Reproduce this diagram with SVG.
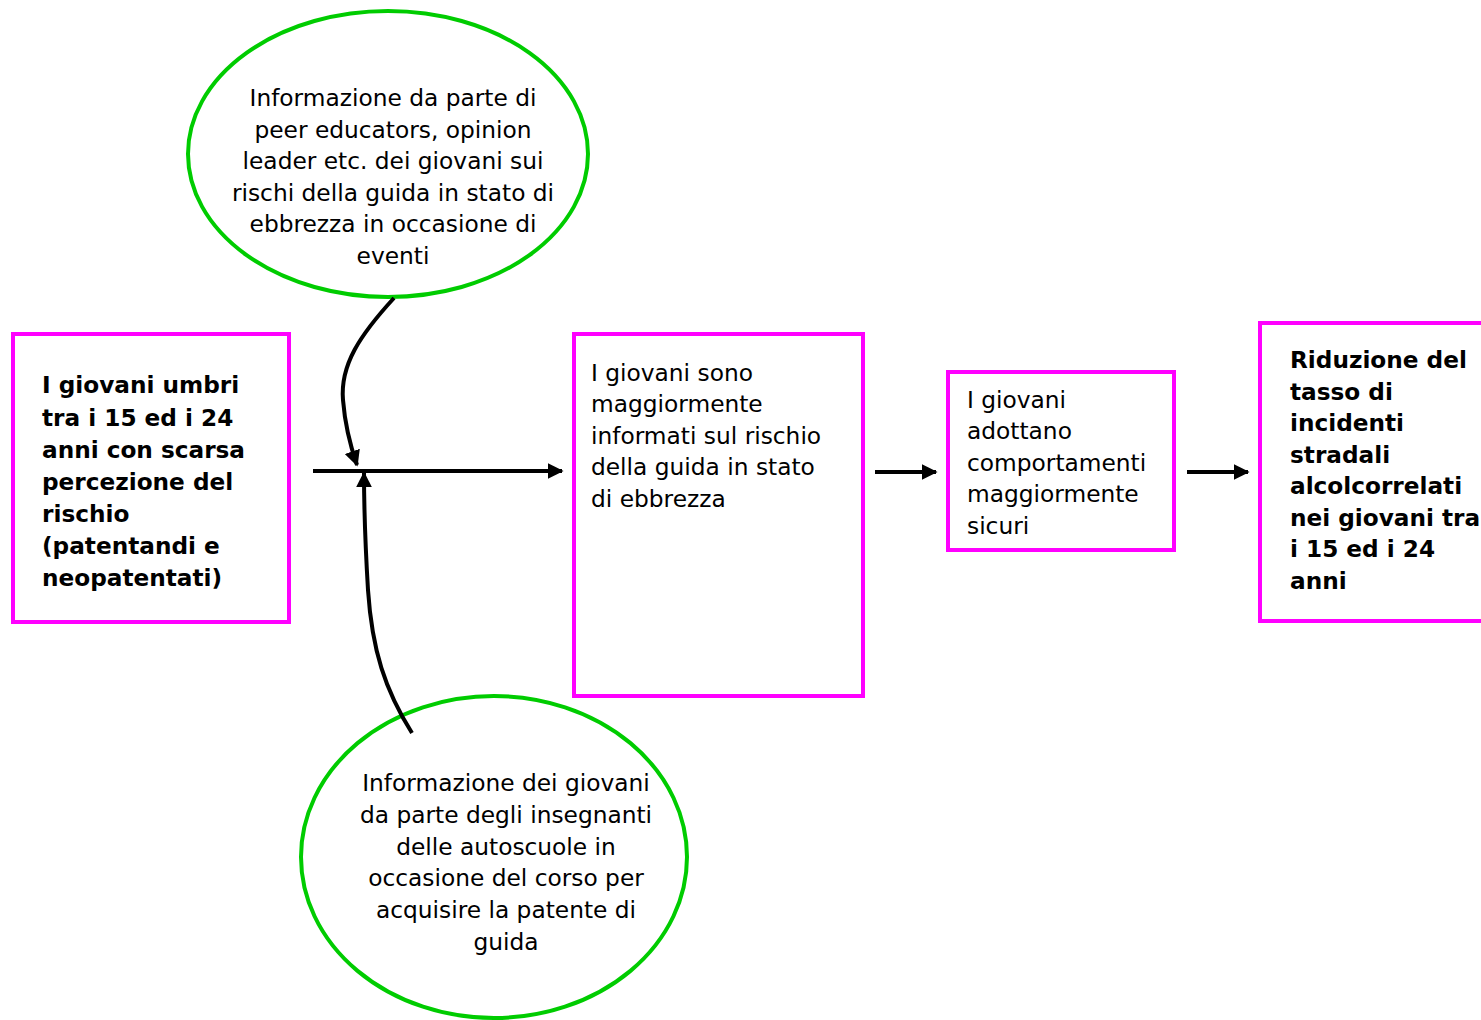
<svg xmlns="http://www.w3.org/2000/svg" width="1481" height="1020" viewBox="0 0 1481 1020">
<style>
.box{fill:#fff;stroke:#ff00ff;stroke-width:4}
.ell{fill:#fff;stroke:#00cc00;stroke-width:4}
.t{font-family:"DejaVu Sans",Verdana,sans-serif;font-size:23.3px;fill:#000}
.b{font-weight:bold;font-size:23.2px}
.c{text-anchor:middle}
.con{fill:none;stroke:#000;stroke-width:4}
</style>
<defs>
<marker id="ah" viewBox="0 0 10 10" refX="9" refY="5" markerWidth="4" markerHeight="4" markerUnits="strokeWidth" orient="auto">
<path d="M0,0 L10,5 L0,10 z" fill="#000"/>
</marker>
</defs>
<rect width="1481" height="1020" fill="#fff"/>
<g id="n-top">
<ellipse class="ell" cx="388" cy="154" rx="200" ry="143"/>
<text class="t c"><tspan x="393" y="106">Informazione da parte di</tspan><tspan x="393" y="138">peer educators, opinion</tspan><tspan x="393" y="169">leader etc. dei giovani sui</tspan><tspan x="393" y="201">rischi della guida in stato di</tspan><tspan x="393" y="232">ebbrezza in occasione di</tspan><tspan x="393" y="264">eventi</tspan></text>
</g>
<g id="n-bottom">
<ellipse class="ell" cx="494" cy="857" rx="193" ry="161"/>
<text class="t c"><tspan x="506" y="791">Informazione dei giovani</tspan><tspan x="506" y="823">da parte degli insegnanti</tspan><tspan x="506" y="855">delle autoscuole in</tspan><tspan x="506" y="886">occasione del corso per</tspan><tspan x="506" y="918">acquisire la patente di</tspan><tspan x="506" y="950">guida</tspan></text>
</g>
<g id="n-start">
<rect class="box" x="13" y="334" width="276" height="288"/>
<text class="t b"><tspan x="42" y="393">I giovani umbri</tspan><tspan x="42" y="426">tra i 15 ed i 24</tspan><tspan x="42" y="458">anni con scarsa</tspan><tspan x="42" y="490">percezione del</tspan><tspan x="42" y="522">rischio</tspan><tspan x="42" y="554">(patentandi e</tspan><tspan x="42" y="586">neopatentati)</tspan></text>
</g>
<g id="n-informed">
<rect class="box" x="574" y="334" width="289" height="362"/>
<text class="t"><tspan x="591" y="381">I giovani sono</tspan><tspan x="591" y="412">maggiormente</tspan><tspan x="591" y="444">informati sul rischio</tspan><tspan x="591" y="475">della guida in stato</tspan><tspan x="591" y="507">di ebbrezza</tspan></text>
</g>
<g id="n-behave">
<rect class="box" x="948" y="372" width="226" height="178"/>
<text class="t"><tspan x="967" y="408">I giovani</tspan><tspan x="967" y="439">adottano</tspan><tspan x="967" y="471">comportamenti</tspan><tspan x="967" y="502">maggiormente</tspan><tspan x="967" y="534">sicuri</tspan></text>
</g>
<g id="n-result">
<rect class="box" x="1260" y="323" width="240" height="298"/>
<text class="t b"><tspan x="1290" y="368">Riduzione del</tspan><tspan x="1290" y="400">tasso di</tspan><tspan x="1290" y="431">incidenti</tspan><tspan x="1290" y="463">stradali</tspan><tspan x="1290" y="494">alcolcorrelati</tspan><tspan x="1290" y="526">nei giovani tra</tspan><tspan x="1290" y="557">i 15 ed i 24</tspan><tspan x="1290" y="589">anni</tspan></text>
</g>
<g id="connectors">
<path class="con" d="M313,471 L562,471" marker-end="url(#ah)"/>
<path class="con" d="M875,472 L936,472" marker-end="url(#ah)"/>
<path class="con" d="M1187,472 L1248,472" marker-end="url(#ah)"/>
<path class="con" d="M394,298 C360,335 340,365 343,400 C345,425 350,445 357,465" marker-end="url(#ah)"/>
<path class="con" d="M412,733 C385,690 372,650 368,590 C365,540 364,510 364,473" marker-end="url(#ah)"/>
</g>
</svg>
